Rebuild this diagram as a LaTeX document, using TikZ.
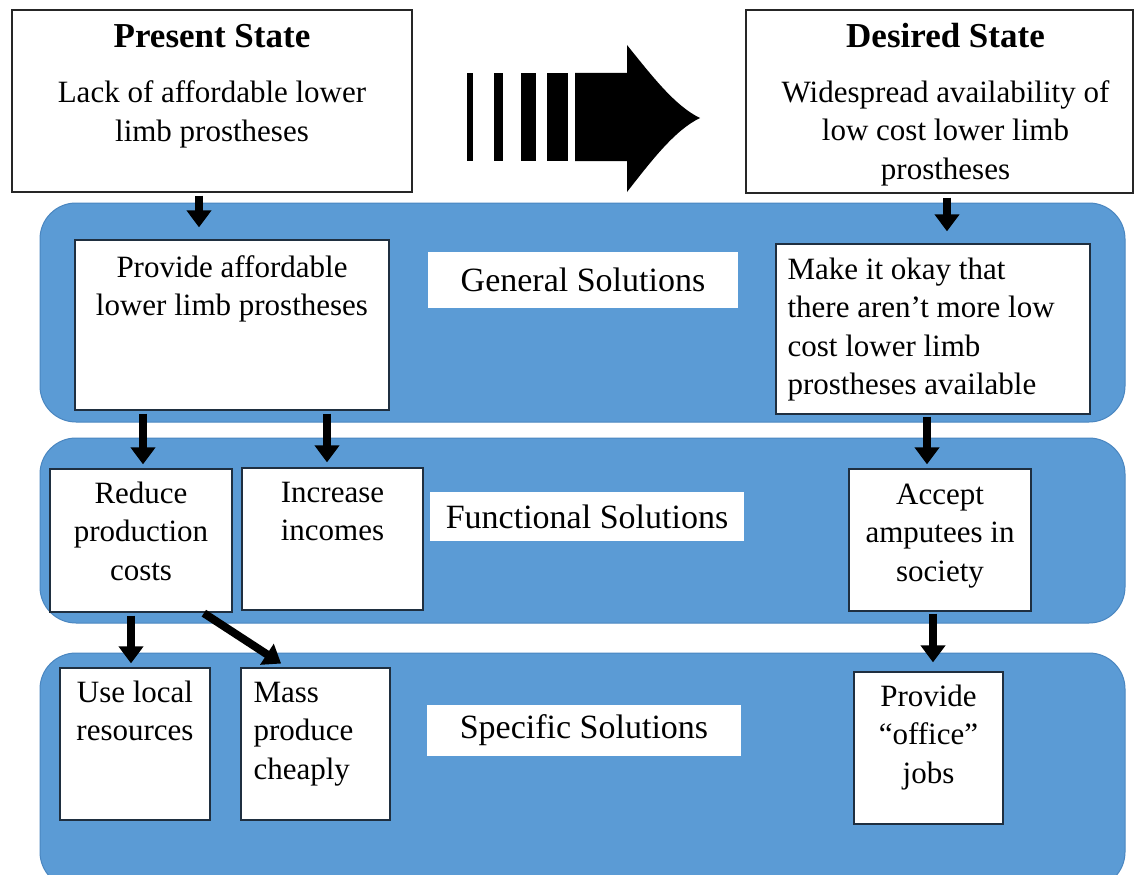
\documentclass[tikz,border=0pt]{standalone}
\usepackage{fontspec}
\setmainfont{Liberation Serif}
\usetikzlibrary{arrows.meta}

\definecolor{bandblue}{HTML}{5B9BD5}
\definecolor{bandedge}{HTML}{4A86C0}
\definecolor{boxedge}{HTML}{1F2F40}

\newcommand{\boxfont}{\fontsize{31pt}{38.5pt}\selectfont}
\newcommand{\tagfont}{\fontsize{34pt}{40pt}\selectfont}
\newcommand{\headfont}{\fontsize{35pt}{40pt}\selectfont\bfseries}

\tikzset{
  band/.style={fill=bandblue, draw=bandedge, line width=1pt, rounded corners=36pt},
  statebox/.style={draw=black!85, line width=1.3pt, fill=white, inner sep=0pt},
  solbox/.style={draw=boxedge, line width=1.3pt, fill=white, inner sep=0pt},
  soltext/.style={inner sep=0pt, align=center, font=\boxfont},
  tagbox/.style={fill=white, inner sep=0pt, font=\tagfont},
  arr/.style={line width=8pt, -{Triangle[width=24pt,length=17pt]}},
}

\begin{document}
\begin{tikzpicture}[x=1pt,y=-1pt]
        \useasboundingbox (0,0) rectangle (1135,875);

        % Drawing bands
        \draw [band] (40,203) rectangle (1125,422);%
        \draw [band] (40,438) rectangle (1125,623);%
        \draw [band] (40,653) rectangle (1125,888);%

        % Present state and desired state (text placed by its last baseline)
        \node [statebox, minimum width=400pt, minimum height=182pt] (present) at (212,101) {};%
        \node [soltext, font=\headfont, anchor=base] at ([yshift=-38pt]present.north) {Present State};%
        \node [soltext, anchor=base] at ([yshift=-132pt]present.north) {Lack of affordable lower\\limb prostheses};%

        \node [statebox, minimum width=387pt, minimum height=183pt] (desired) at (939.5,101.5) {};%
        \node [soltext, font=\headfont, anchor=base] at ([xshift=6pt,yshift=-38pt]desired.north) {Desired State};%
        \node [soltext, anchor=base] at ([xshift=6pt,yshift=-170pt]desired.north) {Widespread availability of\\low cost lower limb\\prostheses};%

        % Striped arrow
        \foreach \xa/\xb in {467/473, 494/503, 521/536, 547/568}
            \fill (\xa,73) rectangle (\xb,161);%
        \fill (575,73) -- (627,73) -- (627,45) .. controls (652,76) and (675,106) .. (700,118)
            .. controls (675,130) and (652,160) .. (627,192) -- (627,161) -- (575,161) -- cycle;%

        % General solutions
        \node [solbox, minimum width=314pt, minimum height=170pt] (provide) at (232,325) {};%
        \node [soltext, anchor=base] at ([yshift=-76.5pt]provide.north) {Provide affordable\\lower limb prostheses};%
        \node [tagbox, minimum width=310pt, minimum height=56pt] (general) at (583,280) {General Solutions};%
        \node [solbox, minimum width=314pt, minimum height=170pt] (makeok) at (933,329) {};%
        \node [soltext, align=left, anchor=base west] at ([xshift=12pt,yshift=-151.5pt]makeok.north west) {Make it okay that\\there aren’t more low\\cost lower limb\\prostheses available};%

        % Functional solutions
        \node [solbox, minimum width=182pt, minimum height=143pt] (reduce) at (141,540.5) {};%
        \node [soltext, anchor=base] at ([yshift=-112pt]reduce.north) {Reduce\\production\\costs};%
        \node [solbox, minimum width=181pt, minimum height=142pt] (increase) at (332.5,539) {};%
        \node [soltext, anchor=base] at ([yshift=-73.5pt]increase.north) {Increase\\incomes};%
        \node [tagbox, minimum width=314pt, minimum height=49pt] (functional) at (587,516.5) {Functional Solutions};%
        \node [solbox, minimum width=182pt, minimum height=142pt] (accept) at (940,540) {};%
        \node [soltext, anchor=base] at ([yshift=-113pt]accept.north) {Accept\\amputees in\\society};%

        % Specific solutions
        \node [solbox, minimum width=150pt, minimum height=152pt] (uselocal) at (135,744) {};%
        \node [soltext, anchor=base] at ([yshift=-73.5pt]uselocal.north) {Use local\\resources};%
        \node [solbox, minimum width=149pt, minimum height=152pt] (massprod) at (315.5,744) {};%
        \node [soltext, align=left, anchor=base west] at ([xshift=13pt,yshift=-112pt]massprod.north west) {Mass\\produce\\cheaply};%
        \node [tagbox, minimum width=314pt, minimum height=51pt] (specific) at (584,730.5) {Specific Solutions};%
        \node [solbox, minimum width=149pt, minimum height=152pt] (office) at (928.5,748) {};%
        \node [soltext, anchor=base] at ([yshift=-112pt]office.north) {Provide\\“office”\\jobs};%

        % Drawing arrows
        \draw [arr, shorten <=3pt, shorten >=12pt] (present.south -| 199,0) -- (provide.north -| 199,0);%
        \draw [arr, shorten <=4pt, shorten >=12pt] (desired.south -| 947,0) -- (makeok.north -| 947,0);%
        \draw [arr, shorten <=3pt, shorten >=4pt] (provide.south -| 143,0) -- (reduce.north -| 143,0);%
        \draw [arr, shorten <=3pt, shorten >=5pt] (provide.south -| 327,0) -- (increase.north -| 327,0);%
        \draw [arr, shorten <=2pt, shorten >=4pt] (makeok.south -| 927,0) -- (accept.north -| 927,0);%
        \draw [arr, shorten <=3pt, shorten >=4pt] (reduce.south -| 131,0) -- (uselocal.north -| 131,0);%
        \draw [arr, shorten <=1pt, shorten >=7pt] (reduce.south -| 203,0) -- (massprod.north -| 287,0);%
        \draw [arr, shorten <=2pt, shorten >=9pt] (accept.south -| 933,0) -- (office.north -| 933,0);%
\end{tikzpicture}
\end{document}
